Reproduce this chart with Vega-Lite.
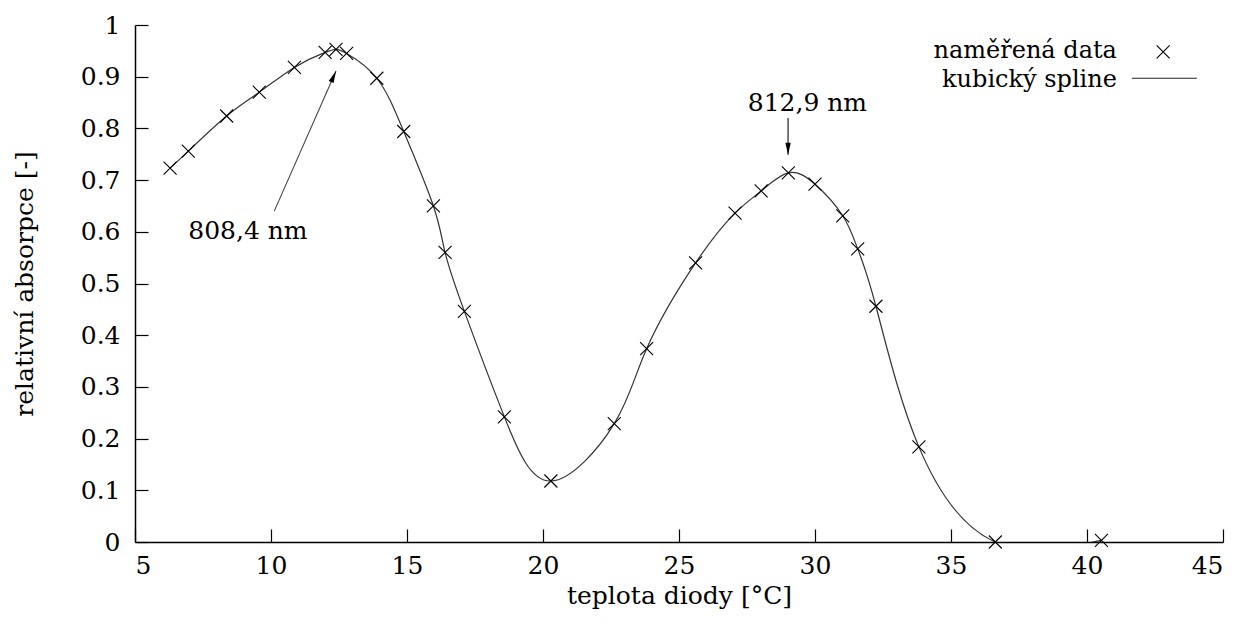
{
  "$schema": "https://vega.github.io/schema/vega-lite/v6.json",
  "width": 1088,
  "height": 517,
  "autosize": {"type": "none"},
  "padding": {"left": 135, "top": 25, "right": 17, "bottom": 81},
  "background": "white",
  "config": {
    "view": {"stroke": null},
    "font": "DejaVu Serif",
    "axis": {
      "domainColor": "black",
      "domainWidth": 1.5,
      "tickColor": "black",
      "tickWidth": 1.2,
      "tickSize": -13,
      "grid": false,
      "labelFont": "DejaVu Serif",
      "labelFontSize": 25,
      "labelColor": "black",
      "titleFont": "DejaVu Serif",
      "titleFontSize": 25,
      "titleFontWeight": "normal",
      "titleColor": "black"
    }
  },
  "datasets": {
    "measured": [
      {"t": 6.29, "a": 0.723},
      {"t": 6.96, "a": 0.756},
      {"t": 8.37, "a": 0.824},
      {"t": 9.57, "a": 0.870},
      {"t": 10.86, "a": 0.918},
      {"t": 11.99, "a": 0.947},
      {"t": 12.39, "a": 0.953},
      {"t": 12.78, "a": 0.945},
      {"t": 13.89, "a": 0.897},
      {"t": 14.88, "a": 0.794},
      {"t": 15.97, "a": 0.650},
      {"t": 16.40, "a": 0.560},
      {"t": 17.11, "a": 0.446},
      {"t": 18.58, "a": 0.242},
      {"t": 20.29, "a": 0.118},
      {"t": 22.62, "a": 0.229},
      {"t": 23.81, "a": 0.374},
      {"t": 25.61, "a": 0.540},
      {"t": 27.06, "a": 0.636},
      {"t": 28.02, "a": 0.679},
      {"t": 29.02, "a": 0.714},
      {"t": 30.00, "a": 0.692},
      {"t": 31.02, "a": 0.631},
      {"t": 31.57, "a": 0.567},
      {"t": 32.24, "a": 0.456},
      {"t": 33.82, "a": 0.184},
      {"t": 36.63, "a": 0.0},
      {"t": 40.53, "a": 0.003}
    ],
    "labels": [
      {"t": 9.15, "a": 0.586, "text": "808,4 nm"},
      {"t": 29.72, "a": 0.834, "text": "812,9 nm"}
    ],
    "arrow1": [{"t": 10.12, "a": 0.640, "t2": 12.39, "a2": 0.911}],
    "arrow2": [{"t": 29.01, "a": 0.820, "t2": 29.01, "a2": 0.749}],
    "legendText": [
      {"t": 41.10, "a": 0.936, "text": "naměřená data"},
      {"t": 41.10, "a": 0.880, "text": "kubický spline"}
    ],
    "legendMarker": [{"t": 42.80, "a": 0.948}],
    "legendLine": [{"t": 41.65, "t2": 44.04, "a": 0.897}]
  },
  "layer": [
    {
      "data": {"name": "measured"},
      "mark": {"type": "line", "interpolate": "natural", "clip": true, "stroke": "#333333", "strokeWidth": 1.2},
      "encoding": {
        "x": {"field": "t", "type": "quantitative",
          "scale": {"domain": [5, 45], "nice": false, "zero": false},
          "axis": {"values": [5, 10, 15, 20, 25, 30, 35, 40, 45], "format": "d", "labelPadding": 24, "title": "teplota diody [°C]", "titlePadding": 5}},
        "y": {"field": "a", "type": "quantitative",
          "scale": {"domain": [0, 1], "nice": false},
          "axis": {"values": [0, 0.1, 0.2, 0.3, 0.4, 0.5, 0.6, 0.7, 0.8, 0.9, 1], "format": ".1~f", "labelPadding": 28, "title": "relativní absorpce [-]", "titlePadding": 43}}
      }
    },
    {
      "data": {"name": "measured"},
      "mark": {"type": "point", "shape": "M-1,-1L1,1M-1,1L1,-1", "filled": false, "stroke": "black", "strokeWidth": 1.1, "size": 169, "opacity": 1},
      "encoding": {
        "x": {"field": "t", "type": "quantitative"},
        "y": {"field": "a", "type": "quantitative"}
      }
    },
    {
      "data": {"name": "labels"},
      "mark": {"type": "text", "font": "DejaVu Serif", "fontSize": 25, "align": "center", "baseline": "alphabetic", "color": "black"},
      "encoding": {
        "x": {"field": "t", "type": "quantitative"},
        "y": {"field": "a", "type": "quantitative"},
        "text": {"field": "text"}
      }
    },
    {
      "data": {"name": "arrow1"},
      "mark": {"type": "rule", "stroke": "#444444", "strokeWidth": 1.1},
      "encoding": {
        "x": {"field": "t", "type": "quantitative"},
        "y": {"field": "a", "type": "quantitative"},
        "x2": {"field": "t2"},
        "y2": {"field": "a2"}
      }
    },
    {
      "data": {"name": "arrow1"},
      "mark": {"type": "point", "shape": "M0,0L-0.45,2L0.45,2Z", "filled": true, "color": "black", "size": 144, "angle": 23.9, "opacity": 1},
      "encoding": {
        "x": {"field": "t2", "type": "quantitative"},
        "y": {"field": "a2", "type": "quantitative"}
      }
    },
    {
      "data": {"name": "arrow2"},
      "mark": {"type": "rule", "stroke": "#222222", "strokeWidth": 1.2},
      "encoding": {
        "x": {"field": "t", "type": "quantitative"},
        "y": {"field": "a", "type": "quantitative"},
        "x2": {"field": "t2"},
        "y2": {"field": "a2"}
      }
    },
    {
      "data": {"name": "arrow2"},
      "mark": {"type": "point", "shape": "M0,0L-0.45,2L0.45,2Z", "filled": true, "color": "black", "size": 144, "angle": 180, "opacity": 1},
      "encoding": {
        "x": {"field": "t2", "type": "quantitative"},
        "y": {"field": "a2", "type": "quantitative"}
      }
    },
    {
      "data": {"name": "legendText"},
      "mark": {"type": "text", "font": "DejaVu Serif", "fontSize": 24, "align": "right", "baseline": "alphabetic", "color": "black"},
      "encoding": {
        "x": {"field": "t", "type": "quantitative"},
        "y": {"field": "a", "type": "quantitative"},
        "text": {"field": "text"}
      }
    },
    {
      "data": {"name": "legendMarker"},
      "mark": {"type": "point", "shape": "M-1,-1L1,1M-1,1L1,-1", "filled": false, "stroke": "black", "strokeWidth": 1.1, "size": 169, "opacity": 1},
      "encoding": {
        "x": {"field": "t", "type": "quantitative"},
        "y": {"field": "a", "type": "quantitative"}
      }
    },
    {
      "data": {"name": "legendLine"},
      "mark": {"type": "rule", "stroke": "#222222", "strokeWidth": 1.2},
      "encoding": {
        "x": {"field": "t", "type": "quantitative"},
        "x2": {"field": "t2"},
        "y": {"field": "a", "type": "quantitative"}
      }
    }
  ]
}
